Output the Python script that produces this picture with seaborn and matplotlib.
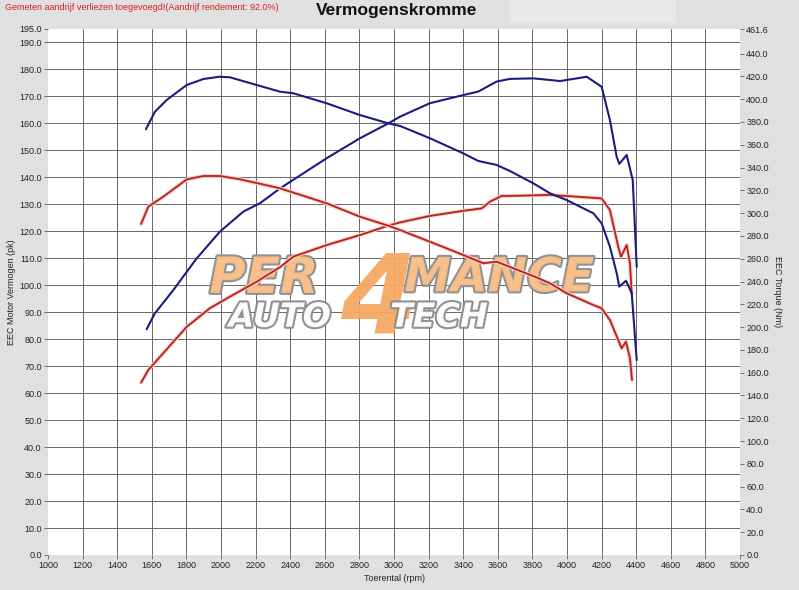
import pandas as pd
import matplotlib
matplotlib.use("Agg")
import matplotlib.pyplot as plt
import matplotlib.patheffects as pe
from matplotlib.patches import Rectangle
from matplotlib.ticker import FormatStrFormatter
import seaborn as sns

# blauwe run - vermogen (pk)
blue_pk_rpm = [1570, 1618, 1724, 1860, 1994, 2129, 2225, 2341, 2611, 2803, 2967, 3035,
               3208, 3400, 3487, 3593, 3670, 3805, 3902, 3960, 4114, 4200, 4248, 4287,
               4302, 4345, 4380, 4403]
blue_pk = [83.7, 89.6, 98.2, 110.0, 119.9, 127.3, 130.4, 135.9, 147.1, 154.5, 160.0, 162.5,
           167.5, 170.5, 171.8, 175.5, 176.5, 176.7, 176.1, 175.7, 177.3, 173.6, 161.3, 147.7,
           145.0, 148.3, 139.0, 106.8]

# blauwe run - koppel (Nm)
blue_nm_rpm = [1566, 1618, 1686, 1802, 1898, 1990, 2052, 2187, 2341, 2418, 2611, 2803,
               2967, 3035, 3208, 3400, 3487, 3593, 3670, 3805, 3902, 3998, 4152, 4200,
               4248, 4287, 4302, 4341, 4374, 4403]
blue_nm = [373.6, 389.0, 399.3, 412.5, 417.7, 419.7, 419.2, 413.3, 406.6, 405.2, 396.4, 386.1,
           378.8, 376.5, 365.7, 352.5, 345.8, 342.3, 337.0, 326.2, 317.4, 311.5, 299.9, 291.1,
           270.6, 247.5, 235.5, 240.7, 229.9, 171.1]

# rode run - vermogen (pk)
red_pk_rpm = [1538, 1580, 1666, 1802, 1936, 2052, 2206, 2341, 2418, 2611, 2803, 2967,
              3035, 3208, 3400, 3507, 3555, 3622, 3728, 3902, 4200, 4248, 4296, 4312,
              4345, 4364, 4374]
red_pk = [63.9, 68.6, 74.8, 84.6, 91.5, 95.8, 101.3, 106.7, 110.6, 114.9, 118.6, 122.1,
          123.3, 125.7, 127.6, 128.5, 131.0, 133.1, 133.2, 133.5, 132.2, 127.9, 114.3, 110.6,
          114.9, 108.1, 97.0]

# rode run - koppel (Nm)
red_nm_rpm = [1538, 1580, 1666, 1802, 1898, 1994, 2110, 2283, 2341, 2611, 2803, 2967,
              3035, 3208, 3400, 3516, 3593, 3690, 3805, 3902, 3998, 4152, 4200, 4248,
              4296, 4316, 4341, 4364, 4376]
red_nm = [290.5, 305.7, 314.4, 329.6, 332.6, 332.6, 329.7, 323.8, 321.8, 308.6, 296.9, 289.0,
          285.2, 274.9, 263.3, 256.0, 257.4, 251.6, 244.8, 238.4, 229.7, 219.4, 216.5, 206.2,
          188.7, 181.4, 187.2, 172.6, 153.6]

BLUE = '#1c1c80'
RED = '#ba2218'

sns.set_theme(style="white")
plt.rcParams['font.family'] = ['Liberation Sans', 'DejaVu Sans']

fig = plt.figure(figsize=(7.99, 5.9), dpi=100, facecolor='#e0e0e0')
ax = fig.add_axes([48/799, 35/590, 692/799, 526/590])
ax.set_facecolor('white')
ax2 = ax.twinx()

# watermerk
stroke = [pe.withStroke(linewidth=3, foreground='#8c8c8c')]
wm = dict(transform=ax.transAxes, ha='center', va='center', fontstyle='italic',
          fontweight='bold', family='DejaVu Sans', zorder=1.5, alpha=0.95)
ax.text(0.478, 0.48, '4', fontsize=80, color='#f6a862', **wm)
ax.text(0.312, 0.525, 'PER', fontsize=36, color='#f9c08a', path_effects=stroke, **wm)
ax.text(0.652, 0.525, 'MANCE', fontsize=34, color='#f9c08a', path_effects=stroke, **wm)
ax.text(0.335, 0.452, 'AUTO', fontsize=24, color='white', path_effects=stroke, **wm)
ax.text(0.565, 0.452, 'TECH', fontsize=24, color='white', path_effects=stroke, **wm)

red_fx = [pe.Stroke(linewidth=2.8, foreground='#f6caca'), pe.Normal()]

sns.lineplot(x=blue_pk_rpm, y=blue_pk, color=BLUE, linewidth=1.5, sort=False,
             estimator=None, ax=ax, zorder=3)
sns.lineplot(x=red_pk_rpm, y=red_pk, color=RED, linewidth=1.3, sort=False,
             estimator=None, ax=ax, zorder=3)
sns.lineplot(x=blue_nm_rpm, y=blue_nm, color=BLUE, linewidth=1.5, sort=False,
             estimator=None, ax=ax2, zorder=3)
sns.lineplot(x=red_nm_rpm, y=red_nm, color=RED, linewidth=1.3, sort=False,
             estimator=None, ax=ax2, zorder=3)
for ln in ax.lines + ax2.lines:
    if ln.get_color() == RED:
        ln.set_path_effects(red_fx)

ax.set_xlim(1000, 5000)
ax.set_ylim(0, 195)
ax2.set_ylim(0, 461.6)

ax.xaxis.remove_overlapping_locs = False
ax.yaxis.remove_overlapping_locs = False
ax.set_xticks(range(1000, 5001, 200))
ax.set_xticks(range(1200, 4801, 200), minor=True)
ax.set_yticks(list(range(0, 191, 10)) + [195])
ax.set_yticks(range(10, 191, 10), minor=True)
ax2.set_yticks(list(range(0, 441, 20)) + [461.6])
ax.yaxis.set_major_formatter(FormatStrFormatter('%.1f'))
ax2.yaxis.set_major_formatter(FormatStrFormatter('%.1f'))

ax.grid(which='major', visible=False)
ax.grid(which='minor', color='#666666', linewidth=0.7)
ax2.grid(False)
ax.set_axisbelow(True)

ax.tick_params(which='minor', length=0)
ax.tick_params(which='major', bottom=True, left=True, length=3, width=0.7,
               color='#707070', labelsize=6.5, pad=1.5, labelcolor='#222222')
ax2.tick_params(which='major', right=True, length=3, width=0.7,
                color='#707070', labelsize=6.5, pad=1.5, labelcolor='#222222')

for a in (ax, ax2):
    for s in a.spines.values():
        s.set_visible(False)

ax.set_xlabel('Toerental (rpm)', fontsize=6.5, color='#222222')
ax.xaxis.set_label_coords(0.5, -0.036)
ax.set_ylabel('EEC Motor Vermogen (pk)', fontsize=6.5, color='#222222')
ax.yaxis.set_label_coords(-0.046, 0.5)
ax2.set_ylabel('EEC Torque (Nm)', fontsize=6.5, color='#222222', rotation=-90,
               va='bottom', rotation_mode='anchor')
ax2.yaxis.set_label_coords(1.048, 0.5)

fig.patches.append(Rectangle((510/799, 1 - 22/590), 165/799, 22/590,
                             transform=fig.transFigure, color='#e9e7ea', zorder=0))
fig.text(397/799, 1 - 11/590, 'Vermogenskromme', ha='center', va='center',
         fontsize=12.5, fontweight='bold', color='#111111')
fig.text(5/799, 1 - 7/590, 'Gemeten aandrijf verliezen toegevoegd!(Aandrijf rendement: 92.0%)',
         ha='left', va='center', fontsize=6.5, color='#d42020')

fig.savefig('out.png', dpi=100, facecolor=fig.get_facecolor())
